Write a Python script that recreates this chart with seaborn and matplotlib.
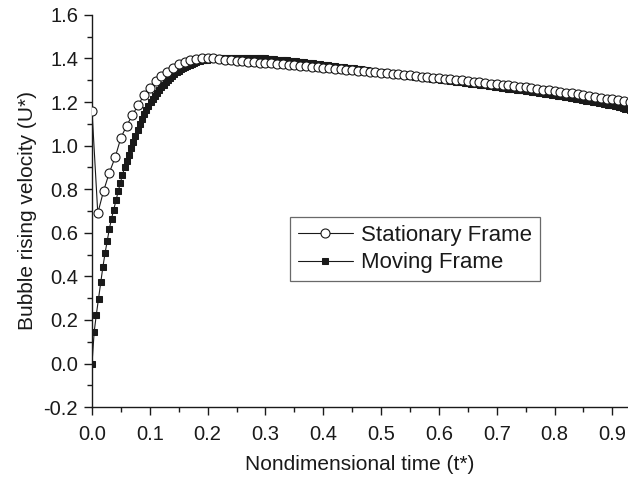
import matplotlib
matplotlib.use("Agg")
import matplotlib.pyplot as plt
from matplotlib.ticker import MultipleLocator
import seaborn as sns
import numpy as np

# stationary frame: sampled every 0.01
dt_stationary = 0.01
u_stationary = [
    1.160, 0.690, 0.792, 0.876, 0.946, 1.036, 1.092, 1.141, 1.187, 1.232,
    1.265, 1.296, 1.318, 1.340, 1.358, 1.373, 1.385, 1.393, 1.398, 1.401,
    1.402, 1.400, 1.397, 1.394, 1.391, 1.389, 1.387, 1.385, 1.383, 1.381,
    1.379, 1.377, 1.375, 1.373, 1.370, 1.368, 1.366, 1.364, 1.361, 1.359,
    1.357, 1.355, 1.352, 1.350, 1.348, 1.346, 1.343, 1.341, 1.339, 1.336,
    1.334, 1.332, 1.329, 1.327, 1.325, 1.322, 1.320, 1.317, 1.315, 1.312,
    1.310, 1.307, 1.305, 1.302, 1.299, 1.297, 1.294, 1.291, 1.288, 1.285,
    1.282, 1.279, 1.276, 1.273, 1.270, 1.267, 1.264, 1.260, 1.257, 1.254,
    1.250, 1.247, 1.243, 1.240, 1.236, 1.232, 1.228, 1.224, 1.220, 1.216,
    1.212, 1.208, 1.203, 1.198,
]

# moving frame: sampled every 0.00375
dt_moving = 0.00375
u_moving = [
    0.000, 0.145, 0.225, 0.298, 0.373, 0.442, 0.505, 0.563, 0.618, 0.665,
    0.706, 0.749, 0.790, 0.827, 0.864, 0.900, 0.930, 0.959, 0.988, 1.017,
    1.045, 1.072, 1.098, 1.122, 1.143, 1.163, 1.181, 1.198, 1.214, 1.229,
    1.243, 1.256, 1.268, 1.280, 1.291, 1.302, 1.312, 1.321, 1.329, 1.337,
    1.344, 1.351, 1.357, 1.362, 1.367, 1.372, 1.376, 1.380, 1.383, 1.386,
    1.389, 1.391, 1.393, 1.395, 1.397, 1.398, 1.399, 1.400, 1.401, 1.401,
    1.402, 1.402, 1.402, 1.402, 1.402, 1.402, 1.402, 1.402, 1.402, 1.402,
    1.402, 1.402, 1.402, 1.402, 1.402, 1.402, 1.401, 1.401, 1.400, 1.400,
    1.400, 1.399, 1.398, 1.397, 1.396, 1.395, 1.395, 1.394, 1.393, 1.392,
    1.391, 1.390, 1.389, 1.388, 1.387, 1.385, 1.384, 1.383, 1.382, 1.381,
    1.379, 1.378, 1.377, 1.376, 1.374, 1.373, 1.372, 1.371, 1.370, 1.368,
    1.367, 1.366, 1.364, 1.363, 1.362, 1.360, 1.359, 1.358, 1.357, 1.356,
    1.355, 1.354, 1.352, 1.351, 1.350, 1.348, 1.347, 1.346, 1.344, 1.343,
    1.342, 1.340, 1.339, 1.338, 1.336, 1.335, 1.334, 1.332, 1.331, 1.330,
    1.328, 1.327, 1.326, 1.324, 1.323, 1.322, 1.321, 1.319, 1.318, 1.317,
    1.316, 1.314, 1.313, 1.312, 1.311, 1.309, 1.308, 1.307, 1.306, 1.305,
    1.304, 1.303, 1.301, 1.300, 1.299, 1.298, 1.296, 1.295, 1.294, 1.293,
    1.291, 1.290, 1.289, 1.288, 1.287, 1.285, 1.284, 1.282, 1.281, 1.280,
    1.278, 1.277, 1.276, 1.274, 1.273, 1.272, 1.270, 1.269, 1.268, 1.266,
    1.265, 1.264, 1.262, 1.261, 1.259, 1.258, 1.257, 1.255, 1.254, 1.253,
    1.252, 1.250, 1.249, 1.247, 1.246, 1.244, 1.243, 1.241, 1.240, 1.238,
    1.237, 1.235, 1.234, 1.232, 1.230, 1.229, 1.227, 1.226, 1.224, 1.222,
    1.221, 1.219, 1.217, 1.216, 1.214, 1.212, 1.211, 1.209, 1.207, 1.205,
    1.203, 1.201, 1.200, 1.198, 1.196, 1.194, 1.192, 1.190, 1.188, 1.187,
    1.185, 1.183, 1.180, 1.178, 1.175, 1.173, 1.170, 1.168, 1.165,
]

t_stationary = np.arange(len(u_stationary)) * dt_stationary
t_moving = np.arange(len(u_moving)) * dt_moving

sns.set_theme(style="ticks")
plt.rcParams["font.family"] = ["Liberation Sans", "DejaVu Sans"]

fig = plt.figure(figsize=(6.28, 4.79), dpi=100)
ax = fig.add_axes([0.1465, 0.150, 0.8535, 0.819])

sns.lineplot(x=t_moving, y=u_moving, ax=ax, color="#1a1a1a", linewidth=0.8,
             marker="s", markersize=4.2, markerfacecolor="#1a1a1a",
             markeredgecolor="#1a1a1a", label="Moving Frame", zorder=2)
sns.lineplot(x=t_stationary, y=u_stationary, ax=ax, color="#1a1a1a", linewidth=0.8,
             marker="o", markersize=6.5, markerfacecolor="white",
             markeredgecolor="#1a1a1a", markeredgewidth=0.8,
             label="Stationary Frame", zorder=3)

ax.set_xlim(0, 0.927)
ax.set_ylim(-0.2, 1.6)
ax.xaxis.set_major_locator(MultipleLocator(0.1))
ax.xaxis.set_minor_locator(MultipleLocator(0.05))
ax.yaxis.set_major_locator(MultipleLocator(0.2))
ax.yaxis.set_minor_locator(MultipleLocator(0.1))
ax.xaxis.set_major_formatter(plt.FormatStrFormatter("%.1f"))
ax.yaxis.set_major_formatter(plt.FormatStrFormatter("%.1f"))

sns.despine(ax=ax)
for side in ["left", "bottom"]:
    ax.spines[side].set_color("#1a1a1a")
    ax.spines[side].set_linewidth(1.0)
ax.tick_params(which="major", direction="out", length=6, width=1.0,
               color="#1a1a1a", labelsize=14.5, labelcolor="#1a1a1a", pad=4)
ax.tick_params(axis="x", which="major", pad=7)
ax.tick_params(which="minor", direction="out", length=3.5, width=1.0,
               color="#1a1a1a")

ax.set_xlabel("Nondimensional time (t*)", fontsize=15, color="#1a1a1a", labelpad=8)
ax.set_ylabel("Bubble rising velocity (U*)", fontsize=15, color="#1a1a1a", labelpad=5)

handles, labels = ax.get_legend_handles_labels()
leg = ax.legend(handles[::-1], labels[::-1], loc="upper left",
                bbox_to_anchor=(0.369, 0.485), borderaxespad=0,
                fontsize=16, frameon=True, fancybox=False, numpoints=1,
                handlelength=2.5, handletextpad=0.35, borderpad=0.35,
                labelspacing=0.3)
leg.get_frame().set_edgecolor("#444444")
leg.get_frame().set_linewidth(0.9)
for txt in leg.get_texts():
    txt.set_color("#1a1a1a")

fig.savefig("out.png", dpi=100)
plt.close(fig)
